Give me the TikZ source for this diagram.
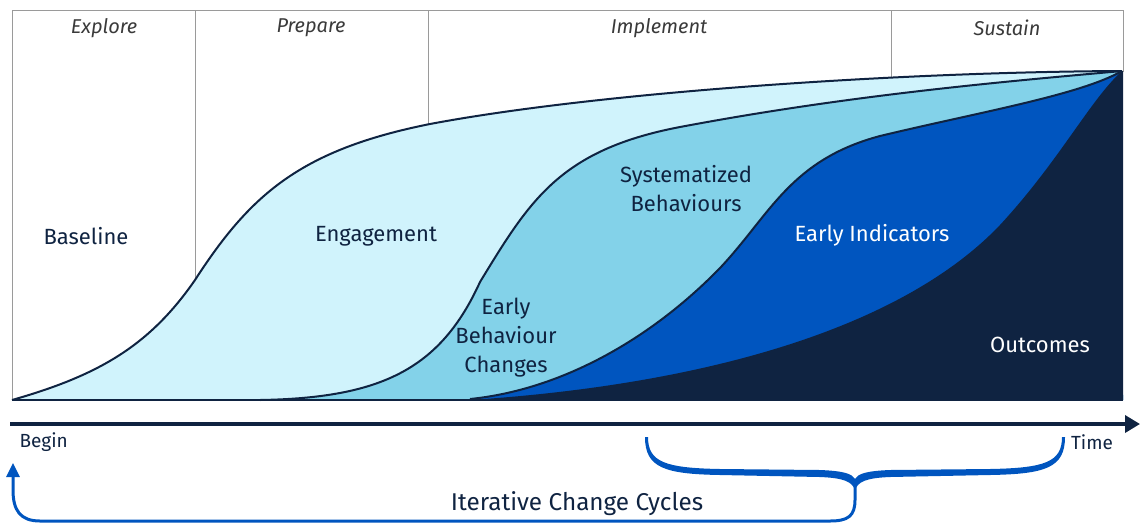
\documentclass[tikz,border=0pt]{standalone}
\usepackage{fontspec}
\setmainfont{Fira Sans}[Ligatures=NoCommon]
\usetikzlibrary{arrows.meta}
\definecolor{navy}{HTML}{0F2341}
\definecolor{lightc}{HTML}{D0F3FC}
\definecolor{midc}{HTML}{83D2E9}
\definecolor{bluec}{HTML}{0055BF}
\definecolor{framec}{HTML}{9A9A9A}
\definecolor{phasec}{HTML}{3A3A3A}
\begin{document}
\begin{tikzpicture}[x=1pt,y=-1pt,
  phase/.style={font=\fontsize{20}{22}\selectfont\itshape, text=phasec},
  lbl/.style={font=\fontsize{22}{29}\selectfont, text=navy, align=center},
  wlbl/.style={lbl, text=white},
  smalllbl/.style={font=\fontsize{19}{22}\selectfont, text=navy},
  framel/.style={draw=framec, line width=1pt},
  curveline/.style={draw=navy, line width=2pt},
  bluel/.style={draw=bluec, line width=3pt}]
\useasboundingbox (0,0) rectangle (1140,523);
% frame
\draw[framel] (12,400) -- (12,10) -- (1123,10) -- (1123,72);
\foreach \x in {195,428,891} \draw[framel] (\x,10) -- (\x,400);
% phases
\node[phase] (explore) at (104,28) {Explore};
\node[phase] (prepare) at (311,28) {Prepare};
\node[phase] (implement) at (659,28) {Implement};
\node[phase] (sustain) at (1007,28) {Sustain};
% fills
\fill[lightc] (12,400) .. controls (100,375) and (150,345) .. (195,280) .. controls (250,195) and (300,150) .. (430,124) .. controls (600,92) and (900,72) .. (1122,71) -- (1123,400) -- cycle;
\fill[midc] (260,400) .. controls (380,398) and (440,370) .. (480,282) .. controls (530,200) and (560,150) .. (680,127) .. controls (850,95) and (1000,82) .. (1122,71) -- (1123,400) -- cycle;
\fill[bluec] (470,399) .. controls (560,390) and (650,340) .. (720,268) .. controls (770,215) and (790,160) .. (880,136) .. controls (980,112) and (1080,95) .. (1122,71) -- (1123,400) -- cycle;
\fill[navy] (470,400) .. controls (700,385) and (900,330) .. (1000,225) .. controls (1060,160) and (1090,100) .. (1122,71) -- (1123,71) -- (1123,400) -- cycle;
% curve outlines
\draw[curveline] (12,400) .. controls (100,375) and (150,345) .. (195,280) .. controls (250,195) and (300,150) .. (430,124) .. controls (600,92) and (900,72) .. (1122,71);
\draw[curveline] (260,400) .. controls (380,398) and (440,370) .. (480,282) .. controls (530,200) and (560,150) .. (680,127) .. controls (850,95) and (1000,82) .. (1122,71);
\draw[curveline] (470,399) .. controls (560,390) and (650,340) .. (720,268) .. controls (770,215) and (790,160) .. (880,136) .. controls (980,112) and (1080,95) .. (1122,71);
\draw[navy, line width=2.5pt] (12,400) -- (1123,400);
% labels
\node[lbl] (baseline) at (86,236) {Baseline};
\node[lbl] (engagement) at (376,236) {Engagement};
\node[lbl] (ebc) at (506,338) {Early\\Behaviour\\Changes};
\node[lbl] (sysb) at (686,189) {Systematized\\Behaviours};
\node[wlbl] (indic) at (872,235) {Early Indicators};
\node[wlbl] (outc) at (1040,345) {Outcomes};
% time axis
\coordinate (ax0) at (10,424);
\coordinate (ax1) at (1140,424);
\draw[navy, line width=3.5pt, -{Triangle[length=15pt,width=17pt]}] (ax0) -- (ax1);
\node[smalllbl, anchor=west] (begin) at (16,442) {Begin};
\node[smalllbl] (time) at (1092,442) {Time};
% brace
\fill[bluec] (645,437) .. controls (645,468) and (665,474) .. (720,475) -- (820,477) .. controls (845,478) and (852,482) .. (855,490) .. controls (858,482) and (865,478) .. (890,477) -- (990,475) .. controls (1045,474) and (1065,468) .. (1065,437) -- (1062,437) .. controls (1062,462) and (1045,468) .. (990,469) -- (890,470) .. controls (865,471) and (858,474) .. (855,479) .. controls (852,474) and (845,471) .. (820,470) -- (720,469) .. controls (665,468) and (648,462) .. (648,437) -- cycle;
\coordinate (loopS) at (855,486);
\coordinate (loopE) at (13,463);
\draw[bluel, -{Triangle[length=14pt,width=13pt]}] (loopS) -- (855,500) .. controls (855,516) and (848,521) .. (830,521) -- (40,521) .. controls (20,521) and (13,510) .. (13,490) -- (loopE);
\node[font=\fontsize{24.3}{27}\selectfont, text=navy] (iter) at (577,504) {Iterative Change Cycles};
\end{tikzpicture}
\end{document}
